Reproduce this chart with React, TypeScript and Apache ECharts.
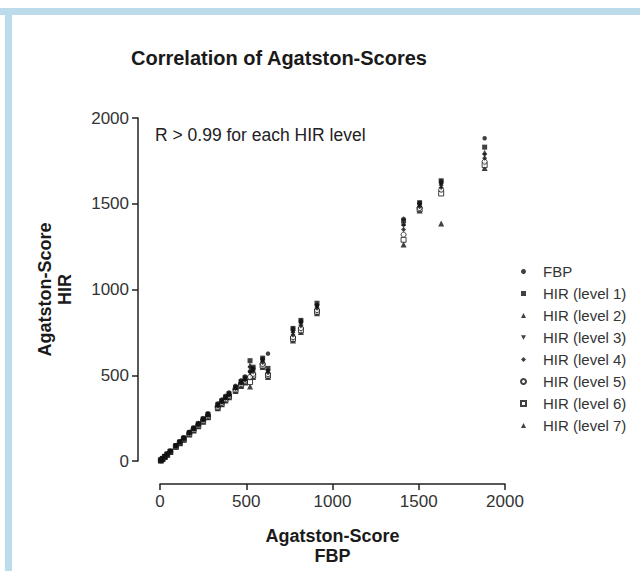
import React, { useEffect, useRef } from "react";
import * as echarts from "echarts";

const seriesNames = ["FBP", "HIR (level 1)", "HIR (level 2)", "HIR (level 3)", "HIR (level 4)", "HIR (level 5)", "HIR (level 6)", "HIR (level 7)"];

// FBP Agatston-Score per patient (x), and HIR score per level (y)
const fbp = [5, 15, 28, 42, 60, 92, 115, 138, 170, 195, 222, 250, 278, 335, 358, 380, 400, 438, 470, 493, 522, 540, 595, 626, 771, 817, 910, 1412, 1505, 1630, 1882];
const hir1 = [5, 14, 27, 41, 58, 90, 112, 135, 166, 191, 217, 245, 272, 328, 351, 373, 392, 430, 462, 485, 585, 547, 600, 540, 773, 820, 920, 1400, 1506, 1634, 1830];
const hir2 = [5, 14, 26, 40, 57, 89, 111, 133, 164, 189, 215, 243, 270, 326, 348, 370, 390, 428, 459, 480, 560, 540, 592, 530, 760, 810, 910, 1385, 1498, 1620, 1800];
const hir3 = [4, 13, 26, 40, 56, 88, 110, 132, 163, 187, 213, 241, 268, 323, 346, 368, 387, 425, 456, 476, 540, 530, 585, 522, 748, 800, 900, 1370, 1490, 1608, 1782];
const hir4 = [4, 13, 25, 39, 55, 87, 108, 130, 161, 185, 211, 238, 265, 320, 343, 365, 384, 421, 452, 472, 520, 520, 575, 515, 735, 788, 890, 1350, 1482, 1595, 1765];
const hir5 = [4, 12, 25, 38, 54, 86, 107, 128, 159, 183, 208, 235, 262, 316, 339, 361, 380, 417, 448, 468, 490, 508, 566, 506, 722, 775, 880, 1320, 1475, 1582, 1745];
const hir6 = [4, 12, 24, 37, 53, 84, 105, 126, 157, 180, 205, 232, 258, 312, 335, 357, 376, 413, 443, 463, 460, 498, 556, 498, 712, 762, 870, 1290, 1468, 1560, 1725];
const hir7 = [3, 11, 23, 36, 52, 83, 104, 124, 155, 178, 202, 229, 255, 308, 331, 353, 372, 408, 438, 458, 435, 490, 548, 490, 703, 752, 862, 1262, 1460, 1385, 1708];

const FONT = "'Liberation Sans', Arial, Helvetica, sans-serif";
const INK = "#111";

const invTri = "path://M0,0L10,0L5,9Z";

const styles = [
  { symbol: "circle", size: 4.5, open: false },
  { symbol: "rect", size: 5, open: false },
  { symbol: "triangle", size: 5, open: false },
  { symbol: invTri, size: 5, open: false },
  { symbol: "diamond", size: 5, open: false },
  { symbol: "circle", size: 5, open: true },
  { symbol: "rect", size: 5, open: true },
  { symbol: "triangle", size: 6, open: false },
];

export default function App() {
  const ref = useRef<HTMLDivElement>(null);
  useEffect(() => {
    if (!ref.current) return;
    const chart = echarts.init(ref.current, undefined, { renderer: "svg" });
    const ys = [fbp, hir1, hir2, hir3, hir4, hir5, hir6, hir7];
    const series = seriesNames.map((name, k) => ({
      type: "scatter",
      name,
      symbol: styles[k].symbol,
      symbolSize: styles[k].size,
      symbolKeepAspect: true,
      itemStyle: styles[k].open
        ? { color: "#fff", borderColor: INK, borderWidth: 1 }
        : { color: INK, borderWidth: 0 },
      data: fbp.map((x, i) => [x, ys[k][i]]),
      z: 10 - k,
    }));
    const fmt = (v: number) => String(v);
    chart.setOption({
      animation: false,
      backgroundColor: "#ffffff",
      textStyle: { fontFamily: FONT },
      title: {
        text: "Correlation of Agatston-Scores",
        left: 274,
        top: 43,
        textAlign: "center",
        textStyle: { fontFamily: FONT, fontSize: 20, fontWeight: "bold", color: "#1a1a1a" },
      },
      grid: { left: 160, right: 135, top: 118, bottom: 109, containLabel: false },
      legend: {
        orient: "vertical",
        left: 515,
        top: 259,
        itemWidth: 5,
        itemHeight: 5,
        itemGap: 7,
        data: seriesNames,
        textStyle: { fontFamily: FONT, fontSize: 15, lineHeight: 15, color: "#333", padding: [0, 0, 0, 12] },
      },
      xAxis: {
        type: "value",
        min: 0,
        max: 2000,
        interval: 500,
        offset: 23,
        name: "Agatston-Score\nFBP",
        nameLocation: "middle",
        nameGap: 42,
        nameTextStyle: { fontFamily: FONT, fontSize: 18, fontWeight: "bold", color: "#1a1a1a", lineHeight: 20 },
        axisLine: { show: true, onZero: false, lineStyle: { color: "#222", width: 1.5 } },
        axisTick: { show: true, length: 6, lineStyle: { color: "#222", width: 1.5 } },
        axisLabel: { margin: 9, fontFamily: FONT, fontSize: 17, color: "#333", formatter: fmt },
        splitLine: { show: false },
      },
      yAxis: {
        type: "value",
        min: 0,
        max: 2000,
        interval: 500,
        offset: 22,
        name: "Agatston-Score\nHIR",
        nameLocation: "middle",
        nameRotate: 90,
        nameGap: 63,
        nameTextStyle: { fontFamily: FONT, fontSize: 18, fontWeight: "bold", color: "#1a1a1a", lineHeight: 20 },
        axisLine: { show: true, onZero: false, lineStyle: { color: "#222", width: 1.5 } },
        axisTick: { show: true, length: 6, lineStyle: { color: "#222", width: 1.5 } },
        axisLabel: { margin: 9, fontFamily: FONT, fontSize: 17, color: "#333", formatter: fmt },
        splitLine: { show: false },
      },
      graphic: [
        { type: "rect", shape: { x: 0, y: 8, width: 640, height: 7 }, style: { fill: "#bcdcec" }, silent: true },
        { type: "rect", shape: { x: 5, y: 8, width: 7, height: 563 }, style: { fill: "#bcdcec" }, silent: true },
        {
          type: "text",
          x: 155,
          y: 135,
          style: {
            text: "R > 0.99 for each HIR level",
            font: `17.5px ${FONT}`,
            fill: "#222",
            verticalAlign: "middle",
          },
        },
      ],
      series,
    });
    return () => chart.dispose();
  }, []);
  return <div ref={ref} style={{ position: "absolute", left: 0, top: 0, width: 640, height: 571 }} />;
}
